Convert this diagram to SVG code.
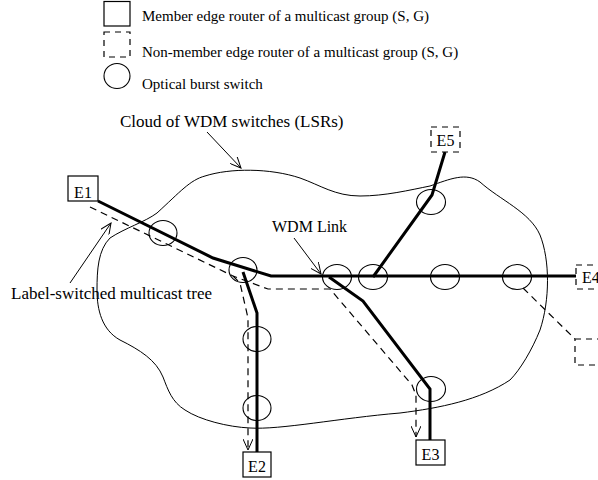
<svg xmlns="http://www.w3.org/2000/svg" width="598" height="480" viewBox="0 0 598 480">
<defs>
<style>
text{font-family:"Liberation Serif","Times New Roman",serif;font-size:15px;fill:#000}
.big{font-size:17px}
.lbl{font-size:16px}
.box{fill:#fff;stroke:#000;stroke-width:1.2}
.dbox{fill:#fff;stroke:#000;stroke-width:1.2;stroke-dasharray:6,5}
.sw{fill:none;stroke:#000;stroke-width:1.1}
.thick{fill:none;stroke:#000;stroke-width:3;stroke-linejoin:miter}
.dash{fill:none;stroke:#000;stroke-width:1.2;stroke-dasharray:7,5}
.thin{fill:none;stroke:#000;stroke-width:1}
</style>
<marker id="ah" viewBox="0 0 12 10" refX="11" refY="5" markerWidth="12" markerHeight="10" markerUnits="userSpaceOnUse" orient="auto">
<path d="M0,0 L11,5 L0,10" fill="none" stroke="#000" stroke-width="1"/>
</marker>
</defs>
<g id="legend">
<rect class="box" x="104" y="1.5" width="26" height="24.5"/>
<text x="142" y="20.5">Member edge router of a multicast group (S, G)</text>
<rect class="dbox" x="104" y="32" width="26" height="25"/>
<text x="142" y="57">Non-member edge router of a multicast group (S, G)</text>
<ellipse class="sw" cx="117" cy="76" rx="13" ry="12.5"/>
<text x="142" y="89">Optical burst switch</text>
</g>
<g id="cloud">
<path class="thin" d="M157,213 C180,192 190,180 205,176 C230,168 270,168 300,178 C320,185 335,196 360,196 C385,196 410,190 430,186 C450,179 466,172 480,182 C500,200 530,212 540,235 C550,260 550,300 540,330 C532,350 520,370 510,380 C480,400 440,408 400,413 C340,418 280,430 250,428 C228,427 200,420 185,410 C172,402 168,390 163,377 C156,360 140,350 120,340 C102,330 97,310 97,290 C97,270 98,250 110,238 C125,228 145,222 157,213 Z"/>
</g>
<g id="connectors">
<path class="thick" d="M98,201 L213,258 L271,276 L576,276"/>
<path class="thick" d="M445,152 L432,195 L373,277"/>
<path class="thick" d="M329,277 L363,301 L430,389 L430,440"/>
<path class="thick" d="M243,272 L257,313 L257,452"/>
<path class="dash" d="M90,207 L233,276 L268,289 L330,289 L412,385 L416,395 L416,437" marker-end="url(#ah)"/>
<path class="dash" d="M233,276 L240,283 L248,318 L248,450" marker-end="url(#ah)"/>
<path class="dash" d="M523,288 L575,339"/>
<line class="thin" x1="207" y1="132" x2="241" y2="168" marker-end="url(#ah)"/>
<line class="thin" x1="294" y1="238" x2="321" y2="274" marker-end="url(#ah)"/>
<line class="thin" x1="70" y1="283" x2="111" y2="223" marker-end="url(#ah)"/>
</g>
<g id="switches">
<ellipse class="sw" cx="163" cy="233" rx="14" ry="12.5"/>
<ellipse class="sw" cx="243" cy="270" rx="14" ry="12.5"/>
<ellipse class="sw" cx="257" cy="339" rx="14" ry="12.5"/>
<ellipse class="sw" cx="257" cy="408" rx="14" ry="12.5"/>
<ellipse class="sw" cx="337" cy="277" rx="14.5" ry="12.5"/>
<ellipse class="sw" cx="373" cy="277" rx="14.5" ry="12.5"/>
<ellipse class="sw" cx="445" cy="277" rx="14.5" ry="12.5"/>
<ellipse class="sw" cx="517" cy="277" rx="14.5" ry="12.5"/>
<ellipse class="sw" cx="431" cy="202" rx="14.5" ry="12.5"/>
<ellipse class="sw" cx="431" cy="389" rx="14.5" ry="12.5"/>
</g>
<g id="E1"><rect class="box" x="68" y="176" width="30" height="25"/><text class="lbl" x="83" y="198" text-anchor="middle">E1</text></g>
<g id="E2"><rect class="box" x="243" y="452" width="28" height="25"/><text class="lbl" x="257" y="472" text-anchor="middle">E2</text></g>
<g id="E3"><rect class="box" x="416" y="440" width="29" height="25"/><text class="lbl" x="430.5" y="460" text-anchor="middle">E3</text></g>
<g id="E4"><rect class="dbox" x="576" y="265" width="30" height="24"/><text class="lbl" x="582" y="283">E4</text></g>
<g id="E5"><rect class="dbox" x="431" y="127" width="29" height="25"/><text class="lbl" x="445.5" y="146" text-anchor="middle">E5</text></g>
<g id="E6"><rect class="dbox" x="575" y="339" width="30" height="26"/></g>
<g id="labels">
<text class="big" x="120" y="127">Cloud of WDM switches (LSRs)</text>
<text class="lbl" x="272" y="232">WDM Link</text>
<text class="big" x="11" y="299">Label-switched multicast tree</text>
</g>
</svg>
